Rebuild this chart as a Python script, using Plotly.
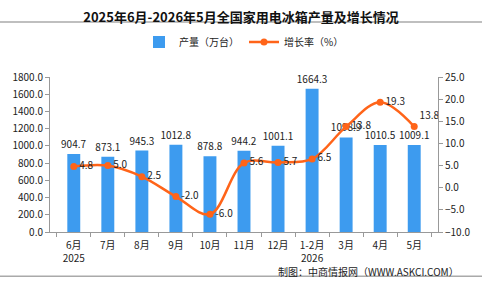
import plotly.graph_objects as go

categories = ["6月<br>2025", "7月", "8月", "9月", "10月", "11月", "12月", "1-2月<br>2026", "3月", "4月", "5月"]
production = [904.7, 873.1, 945.3, 1012.8, 878.8, 944.2, 1001.1, 1664.3, 1098.9, 1010.5, 1009.1]
growth = [4.8, 5.0, 2.5, -2.0, -6.0, 5.6, 5.7, 6.5, 13.8, 19.3, 13.8]
growth_pos = ["middle right"] * 10 + ["top right"]

FONT = "Noto Sans CJK SC, DejaVu Sans, sans-serif"
BLUE = "#3D9BEF"
ORANGE = "#FF6419"

fig = go.Figure()
fig.add_trace(go.Bar(
    x=categories, y=production, name="产量（万台）",
    marker=dict(color=BLUE, line=dict(width=0)), width=0.38,
    text=[f"{v:.1f}" for v in production], textposition="outside",
    constraintext="none",
    textfont=dict(size=10, color="#222", family=FONT), cliponaxis=False,
))
fig.add_trace(go.Scatter(
    x=categories, y=growth, name="增长率（%）", yaxis="y2",
    mode="lines+markers+text",
    line=dict(color=ORANGE, width=2.5, shape="spline", smoothing=1.0),
    marker=dict(color=ORANGE, size=7),
    text=[f"{v:.1f}" for v in growth], textposition=growth_pos,
    textfont=dict(size=10, color="#222", family=FONT), cliponaxis=False,
))

fig.update_layout(
    width=482, height=284,
    margin=dict(l=49, r=31, t=62, b=52),
    paper_bgcolor="white", plot_bgcolor="white",
    font=dict(family=FONT, size=10, color="#222"),
    title=dict(text="<b>2025年6月-2026年5月全国家用电冰箱产量及增长情况</b>",
               x=0.5, xanchor="center", y=0.94, yanchor="middle",
               font=dict(size=13, color="#111", family=FONT)),
    legend=dict(orientation="h", x=0.5, xanchor="center", y=0.852, yanchor="middle",
                yref="container", font=dict(size=10, color="#222"), bgcolor="rgba(0,0,0,0)",
                itemwidth=30),
    showlegend=True,
    xaxis=dict(type="category", showline=True, linecolor="#999", ticks="outside",
               tickson="boundaries", ticklen=4, tickcolor="#999", ticklabelstandoff=4,
               tickfont=dict(size=10, color="#222"), showgrid=False),
    yaxis=dict(range=[0, 1800], dtick=200, tickformat=".1f", showline=True,
               linecolor="#999", ticks="outside", ticklen=4, tickcolor="#999",
               showgrid=False, zeroline=False, tickfont=dict(size=10, color="#222")),
    yaxis2=dict(range=[-10, 25], dtick=5, tickformat=".1f", overlaying="y", side="right",
                showline=True, linecolor="#999", ticks="outside", ticklen=4, tickcolor="#999",
                showgrid=False, zeroline=False, tickfont=dict(size=10, color="#222")),
)

fig.add_annotation(text="制图：中商情报网（WWW.ASKCI.COM）", xref="paper", yref="paper",
                   x=1.06, y=-0.258, xanchor="right", yanchor="middle", showarrow=False,
                   font=dict(size=10, color="#222", family=FONT))
fig.add_shape(type="line", xref="paper", yref="paper", x0=-0.2, x1=1.2, y0=1.355, y1=1.355,
              line=dict(color="#aaa", width=1.5))
fig.add_shape(type="line", xref="paper", yref="paper", x0=-0.2, x1=1.2, y0=-0.285, y1=-0.285,
              line=dict(color="#aaa", width=1.5))

fig.write_html("out.html")
